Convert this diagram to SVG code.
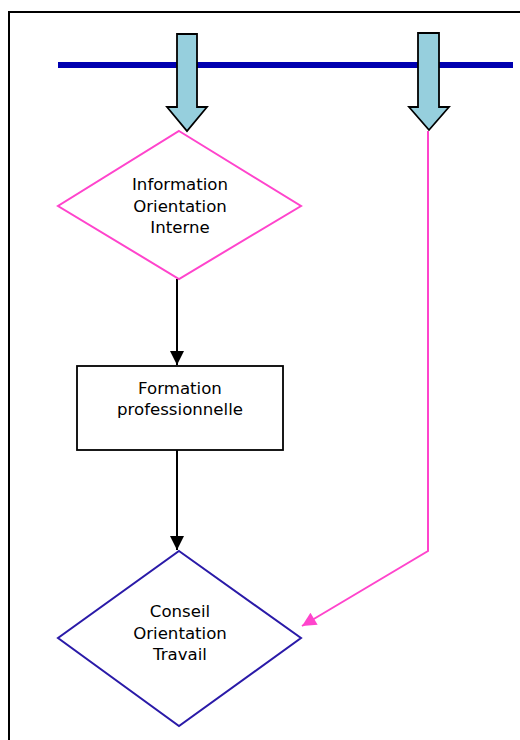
<svg xmlns="http://www.w3.org/2000/svg" width="520" height="740" viewBox="0 0 520 740">
  <defs>
    <style>
      .lbl { font-family: "DejaVu Sans", "Liberation Sans", sans-serif; font-size: 16.6px; fill: #000; text-anchor: middle; }
      .bigarrow { fill: #96cfdd; stroke: #000; stroke-width: 1.8; stroke-linejoin: miter; }
      .blk { stroke: #000; stroke-width: 2; fill: none; }
      .pink { stroke: #ff44cc; stroke-width: 2; fill: none; }
    </style>
    <marker id="ah-black" viewBox="0 0 10 10" refX="10" refY="5" markerWidth="7" markerHeight="7" markerUnits="strokeWidth" orient="auto">
      <path d="M0,0 L10,5 L0,10 z" fill="#000"/>
    </marker>
    <marker id="ah-pink" viewBox="0 0 10 10" refX="10" refY="5" markerWidth="9" markerHeight="7" markerUnits="strokeWidth" orient="auto">
      <path d="M0,0 L10,5 L0,10 z" fill="#ff44cc"/>
    </marker>
  </defs>
  <rect x="0" y="0" width="520" height="740" fill="#fff"/>
  <rect x="9" y="12" width="530" height="750" fill="none" stroke="#000" stroke-width="2"/>

  <g id="bar">
    <line x1="58" y1="65" x2="513" y2="65" stroke="#0000b0" stroke-width="6"/>
  </g>

  <g id="arrow-in-1">
    <path class="bigarrow" d="M177,34 L197,34 L197,107 L207,107 L187,131 L167,107 L177,107 Z"/>
  </g>
  <g id="arrow-in-2">
    <path class="bigarrow" d="M418,33 L439,33 L439,107 L449,107 L429,130 L409,107 L418,107 Z"/>
  </g>

  <g id="connectors">
    <line class="blk" x1="177" y1="279" x2="177" y2="365" marker-end="url(#ah-black)"/>
    <line class="blk" x1="177" y1="450" x2="177" y2="550" marker-end="url(#ah-black)"/>
    <polyline class="pink" points="428,131 428,551 302,626" marker-end="url(#ah-pink)"/>
  </g>

  <g id="node-info">
    <polygon points="179,131 301,206 179,279 58,206" fill="#fff" stroke="#ff44cc" stroke-width="2"/>
    <text class="lbl" x="180" y="190">Information</text>
    <text class="lbl" x="180" y="212">Orientation</text>
    <text class="lbl" x="180" y="233">Interne</text>
  </g>

  <g id="node-formation">
    <rect x="77" y="366" width="206" height="84" fill="#fff" stroke="#000" stroke-width="1.8"/>
    <text class="lbl" x="180" y="394">Formation</text>
    <text class="lbl" x="180" y="415">professionnelle</text>
  </g>

  <g id="node-conseil">
    <polygon points="179,551 301,638 179,726 58,638" fill="#fff" stroke="#2a1aa8" stroke-width="2"/>
    <text class="lbl" x="180" y="617">Conseil</text>
    <text class="lbl" x="180" y="639">Orientation</text>
    <text class="lbl" x="180" y="660">Travail</text>
  </g>
</svg>
